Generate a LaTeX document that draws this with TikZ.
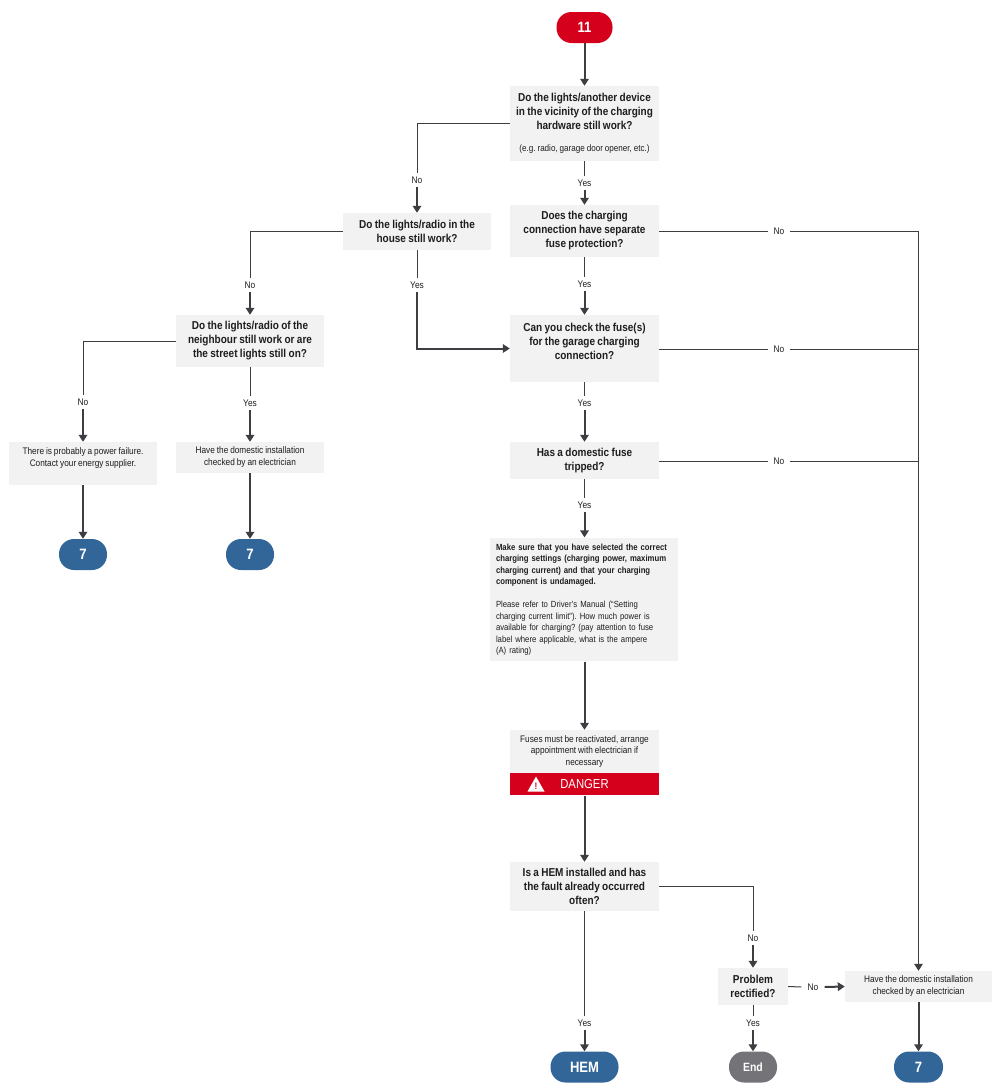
\documentclass[tikz,border=0pt]{standalone}
\usepackage{fontspec}
\setmainfont{Liberation Sans}[FakeStretch=0.87,WordSpace=0.85]
\usetikzlibrary{arrows.meta}
\definecolor{pred}{HTML}{D5001C}
\definecolor{pblue}{HTML}{326699}
\definecolor{pgrey}{HTML}{737378}
\definecolor{boxgray}{HTML}{F2F2F2}
\definecolor{linec}{HTML}{3D3D42}
\definecolor{txt}{HTML}{1E1E1E}
\begin{document}
\frenchspacing
\begin{tikzpicture}[x=1pt,y=-1pt,
  box/.style={fill=boxgray, inner sep=2pt, align=center, text=txt},
  q/.style={box, font=\fontsize{11.5}{14}\selectfont\bfseries},
  info/.style={box, font=\fontsize{9.5}{12}\selectfont},
  pill/.style={rounded corners=15pt, minimum height=31pt, inner sep=0pt, text=white, font=\fontsize{15}{17}\selectfont\bfseries},
  lbl/.style={font=\fontsize{9.6}{10}\selectfont, text=txt, inner sep=3pt},
  ln/.style={draw=linec, line width=1pt},
  arr/.style={draw=linec, line width=2pt, -{Triangle[width=8.5pt,length=7pt]}},
  busarr/.style={draw=linec, line width=1.5pt, -{Triangle[width=8.5pt,length=7pt]}}
]
\useasboundingbox (0,0) rectangle (1002,1092);
% nodes
\node[pill, fill=pred, minimum width=56pt] (n11) at (584.5,27.5) {11};
\node[q, minimum width=149pt, minimum height=75pt] (b1) at (584.5,123.5)
  {Do the lights/another device\\in the vicinity of the charging\\hardware still work?\\[8pt]{\fontsize{9.3}{10}\selectfont\mdseries (e.g. radio, garage door opener, etc.)}};
\node[q, minimum width=148pt, minimum height=37pt] (b2) at (417,231.5)
  {Do the lights/radio in the\\house still work?};
\node[q, minimum width=149pt, minimum height=52pt] (b3) at (584.5,231)
  {Does the charging\\connection have separate\\fuse protection?};
\node[q, minimum width=149pt, minimum height=67pt] (b4) at (584.5,348.5)
  {Can you check the fuse(s)\\for the garage charging\\connection?\\ \mbox{}};
\node[q, minimum width=148pt, minimum height=52pt] (b5) at (250,341)
  {Do the lights/radio of the\\neighbour still work or are\\the street lights still on?};
\node[info, minimum width=148pt, minimum height=43pt] (b6) at (83,463.5)
  {There is probably a power failure.\\Contact your energy supplier.\\ \mbox{}};
\node[info, minimum width=148pt, minimum height=31pt] (b7) at (250,457.5)
  {Have the domestic installation\\checked by an electrician};
\node[pill, fill=pblue, minimum width=48pt] (p7a) at (83,554.5) {7};
\node[pill, fill=pblue, minimum width=48pt] (p7b) at (250,554.5) {7};
\node[q, minimum width=149pt, minimum height=37pt] (b8) at (584.5,460.5)
  {Has a domestic fuse\\tripped?};
\node[box, align=left, text width=176pt, inner sep=6pt, minimum height=123pt,
  font=\fontsize{8.9}{11.5}\selectfont] (b9) at (584,599.5)
  {\textbf{Make sure that you have selected the correct}\\
   \textbf{charging settings (charging power, maximum}\\
   \textbf{charging current) and that your charging}\\
   \textbf{component is undamaged.}\\[11.5pt]
   Please refer to Driver's Manual (“Setting\\
   charging current limit”). How much power is\\
   available for charging? (pay attention to fuse\\
   label where applicable, what is the ampere\\
   (A) rating)};
\node[box, minimum width=149pt, minimum height=43pt, font=\fontsize{9.5}{11.5}\selectfont] (b10) at (584.5,751.5)
  {Fuses must be reactivated, arrange\\appointment with electrician if\\necessary};
\node[fill=pred, minimum width=149pt, minimum height=22pt, inner sep=0pt, anchor=north,
  text=white, font=\fontsize{13}{14}\selectfont] (dng) at (b10.south) {DANGER};
\fill[white] (527.5,791.5) -- (544.5,791.5) -- (536,776.5) -- cycle;
\node[text=pred, inner sep=0pt, font=\fontsize{9.5}{10}\selectfont\bfseries] (excl) at (536,786) {!};
\node[q, minimum width=149pt, minimum height=49pt] (b11) at (584.5,886.5)
  {Is a HEM installed and has\\the fault already occurred\\often?};
\node[q, minimum width=70pt, minimum height=37pt] (b12) at (753,986.5)
  {Problem\\rectified?};
\node[info, minimum width=147pt, minimum height=31pt] (b13) at (918.5,986.5)
  {Have the domestic installation\\checked by an electrician};
\node[pill, fill=pblue, minimum width=68pt] (pHEM) at (584.5,1067) {HEM};
\node[pill, fill=pgrey, minimum width=48pt, font=\fontsize{12}{13}\selectfont\bfseries] (pEnd) at (753,1067) {End};
\node[pill, fill=pblue, minimum width=49pt] (p7c) at (918.5,1067) {7};
% labels
\node[lbl] (l1) at (417,180) {No};
\node[lbl] (l2) at (584.5,183) {Yes};
\node[lbl, inner sep=5pt] (l3) at (779,231) {No};
\node[lbl] (l4) at (584.5,284) {Yes};
\node[lbl] (l5) at (417,285) {Yes};
\node[lbl] (l6) at (250,285) {No};
\node[lbl, inner sep=5pt] (l7) at (779,349) {No};
\node[lbl] (l8) at (83,402) {No};
\node[lbl] (l9) at (250,403) {Yes};
\node[lbl] (l10) at (584.5,403) {Yes};
\node[lbl, inner sep=5pt] (l11) at (779,461) {No};
\node[lbl] (l12) at (584.5,505) {Yes};
\node[lbl] (l13) at (753,938) {No};
\node[lbl, inner sep=6pt] (l14) at (813,987) {No};
\node[lbl] (l15) at (753,1023) {Yes};
\node[lbl] (l16) at (584.5,1023) {Yes};
\coordinate (bus1) at (918.5,231);
\coordinate (bus2) at (918.5,349);
\coordinate (bus3) at (918.5,461);
% connectors
\draw[arr] (n11) -- (b1);
\draw[ln] (b1.west) -| (l1.north);
\draw[arr] (l1.south) -- (b2.north);
\draw[ln] (b1.south) -- (l2.north);
\draw[arr] (l2.south) -- (b3.north);
\draw[ln] (b3.east) -- (l3.west);
\draw[ln] (l3.east) -- (bus1);
\draw[ln] (b3.south) -- (l4.north);
\draw[arr] (l4.south) -- (b4.north);
\draw[ln] (b2.south) -- (l5.north);
\draw[arr] (l5.south) |- (b4.west);
\draw[ln] (b2.west) -| (l6.north);
\draw[arr] (l6.south) -- (b5.north);
\draw[ln] (b4.east |- bus2) -- (l7.west);
\draw[ln] (l7.east) -- (bus2);
\draw[ln] (b5.west) -| (l8.north);
\draw[arr] (l8.south) -- (b6.north);
\draw[ln] (b5.south) -- (l9.north);
\draw[arr] (l9.south) -- (b7.north);
\draw[arr] (b6) -- (p7a);
\draw[arr] (b7) -- (p7b);
\draw[ln] (b4.south) -- (l10.north);
\draw[arr] (l10.south) -- (b8.north);
\draw[ln] (b8.east |- bus3) -- (l11.west);
\draw[ln] (l11.east) -- (bus3);
\draw[ln] (b8.south) -- (l12.north);
\draw[arr] (l12.south) -- (b9.north -| l12);
\draw[arr] (b9.south -| b10) -- (b10.north);
\draw[arr] (dng.south) -- (b11.north);
\draw[ln] (b11.east) -| (l13.north);
\draw[arr] (l13.south) -- (b12.north);
\draw[ln] (b12.east) -- (l14.west);
\draw[arr] (l14.east) -- (b13.west);
\draw[ln] (b12.south) -- (l15.north);
\draw[arr] (l15.south) -- (pEnd.north);
\draw[ln] (b11.south) -- (l16.north);
\draw[arr] (l16.south) -- (pHEM.north);
\draw[busarr] (bus1) -- (b13.north);
\draw[arr] (b13.south) -- (p7c.north);
\end{tikzpicture}
\end{document}
